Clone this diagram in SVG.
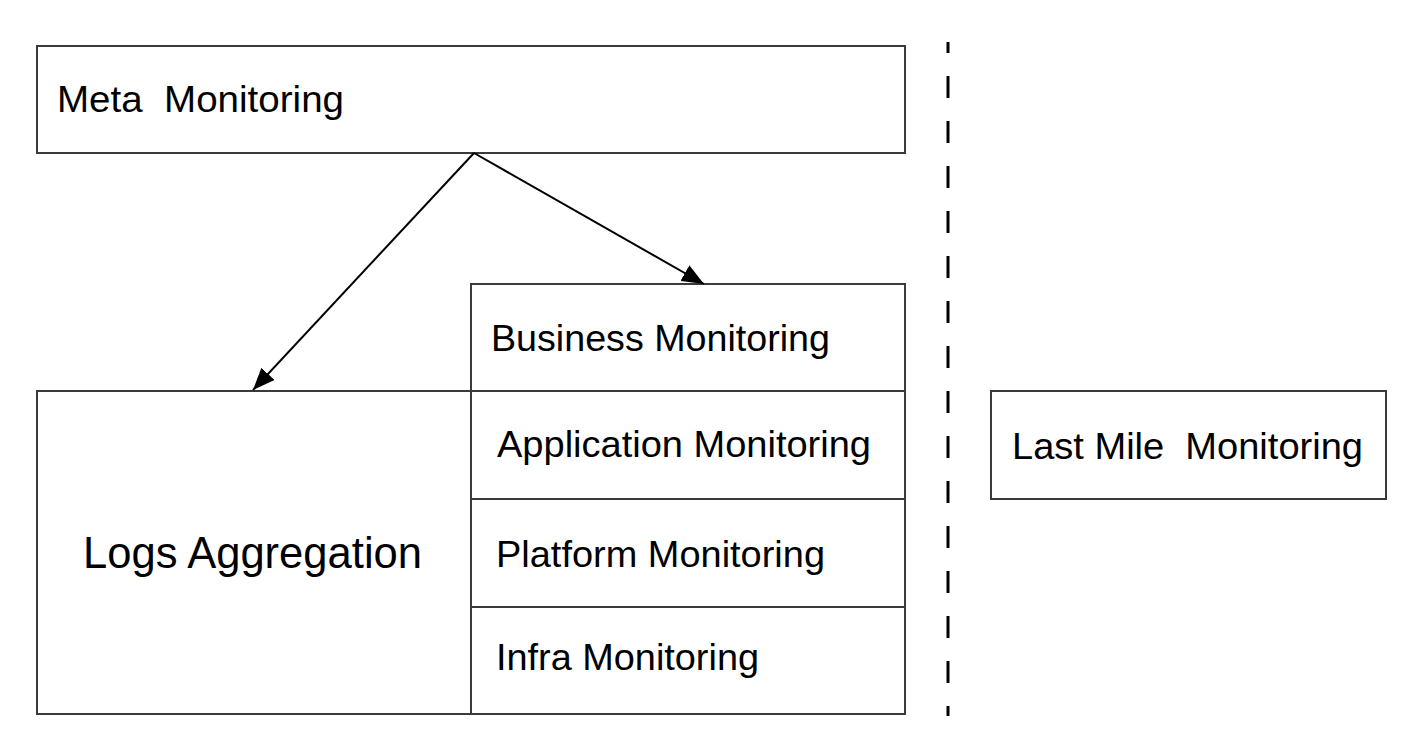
<svg xmlns="http://www.w3.org/2000/svg" width="1424" height="756" viewBox="0 0 1424 756">
<style>
.box{fill:#fff;stroke:#3a3a3a;stroke-width:2}
.t{font-family:"Liberation Sans",Arial,sans-serif;font-size:37px;fill:#000;white-space:pre}
.big{font-size:45px}
.conn{stroke:#000;stroke-width:2;fill:none}
</style>
<defs>
<marker id="ah" markerWidth="22" markerHeight="18" refX="22" refY="9" orient="auto" markerUnits="userSpaceOnUse">
<path d="M0,0 L22,9 L0,18 Z" fill="#000"/>
</marker>
</defs>
<rect width="1424" height="756" fill="#fff"/>
<g id="meta">
<rect class="box" x="37" y="46" width="868" height="107"/>
<text class="t" x="57" y="112" xml:space="preserve" textLength="287" lengthAdjust="spacingAndGlyphs">Meta  Monitoring</text>
</g>
<g id="logs">
<rect class="box" x="37" y="391" width="434" height="323"/>
<text class="t big" x="83" y="568" textLength="339" lengthAdjust="spacingAndGlyphs">Logs Aggregation</text>
</g>
<g id="business">
<rect class="box" x="471" y="284" width="434" height="107"/>
<text class="t" x="491" y="351" textLength="339" lengthAdjust="spacingAndGlyphs">Business Monitoring</text>
</g>
<g id="application">
<rect class="box" x="471" y="391" width="434" height="108"/>
<text class="t" x="497" y="457" textLength="374" lengthAdjust="spacingAndGlyphs">Application Monitoring</text>
</g>
<g id="platform">
<rect class="box" x="471" y="499" width="434" height="108"/>
<text class="t" x="496" y="567" textLength="329" lengthAdjust="spacingAndGlyphs">Platform Monitoring</text>
</g>
<g id="infra">
<rect class="box" x="471" y="607" width="434" height="107"/>
<text class="t" x="496" y="670" textLength="263" lengthAdjust="spacingAndGlyphs">Infra Monitoring</text>
</g>
<g id="lastmile">
<rect class="box" x="991" y="391" width="395" height="108"/>
<text class="t" x="1012" y="459" xml:space="preserve" textLength="351" lengthAdjust="spacingAndGlyphs">Last Mile  Monitoring</text>
</g>
<g id="connectors">
<line class="conn" x1="474" y1="153" x2="253" y2="390" marker-end="url(#ah)"/>
<line class="conn" x1="474" y1="153" x2="704" y2="284" marker-end="url(#ah)"/>
<line x1="948" y1="42" x2="948" y2="716" stroke="#000" stroke-width="3" stroke-dasharray="22,23" stroke-dashoffset="11"/>
</g>
</svg>
